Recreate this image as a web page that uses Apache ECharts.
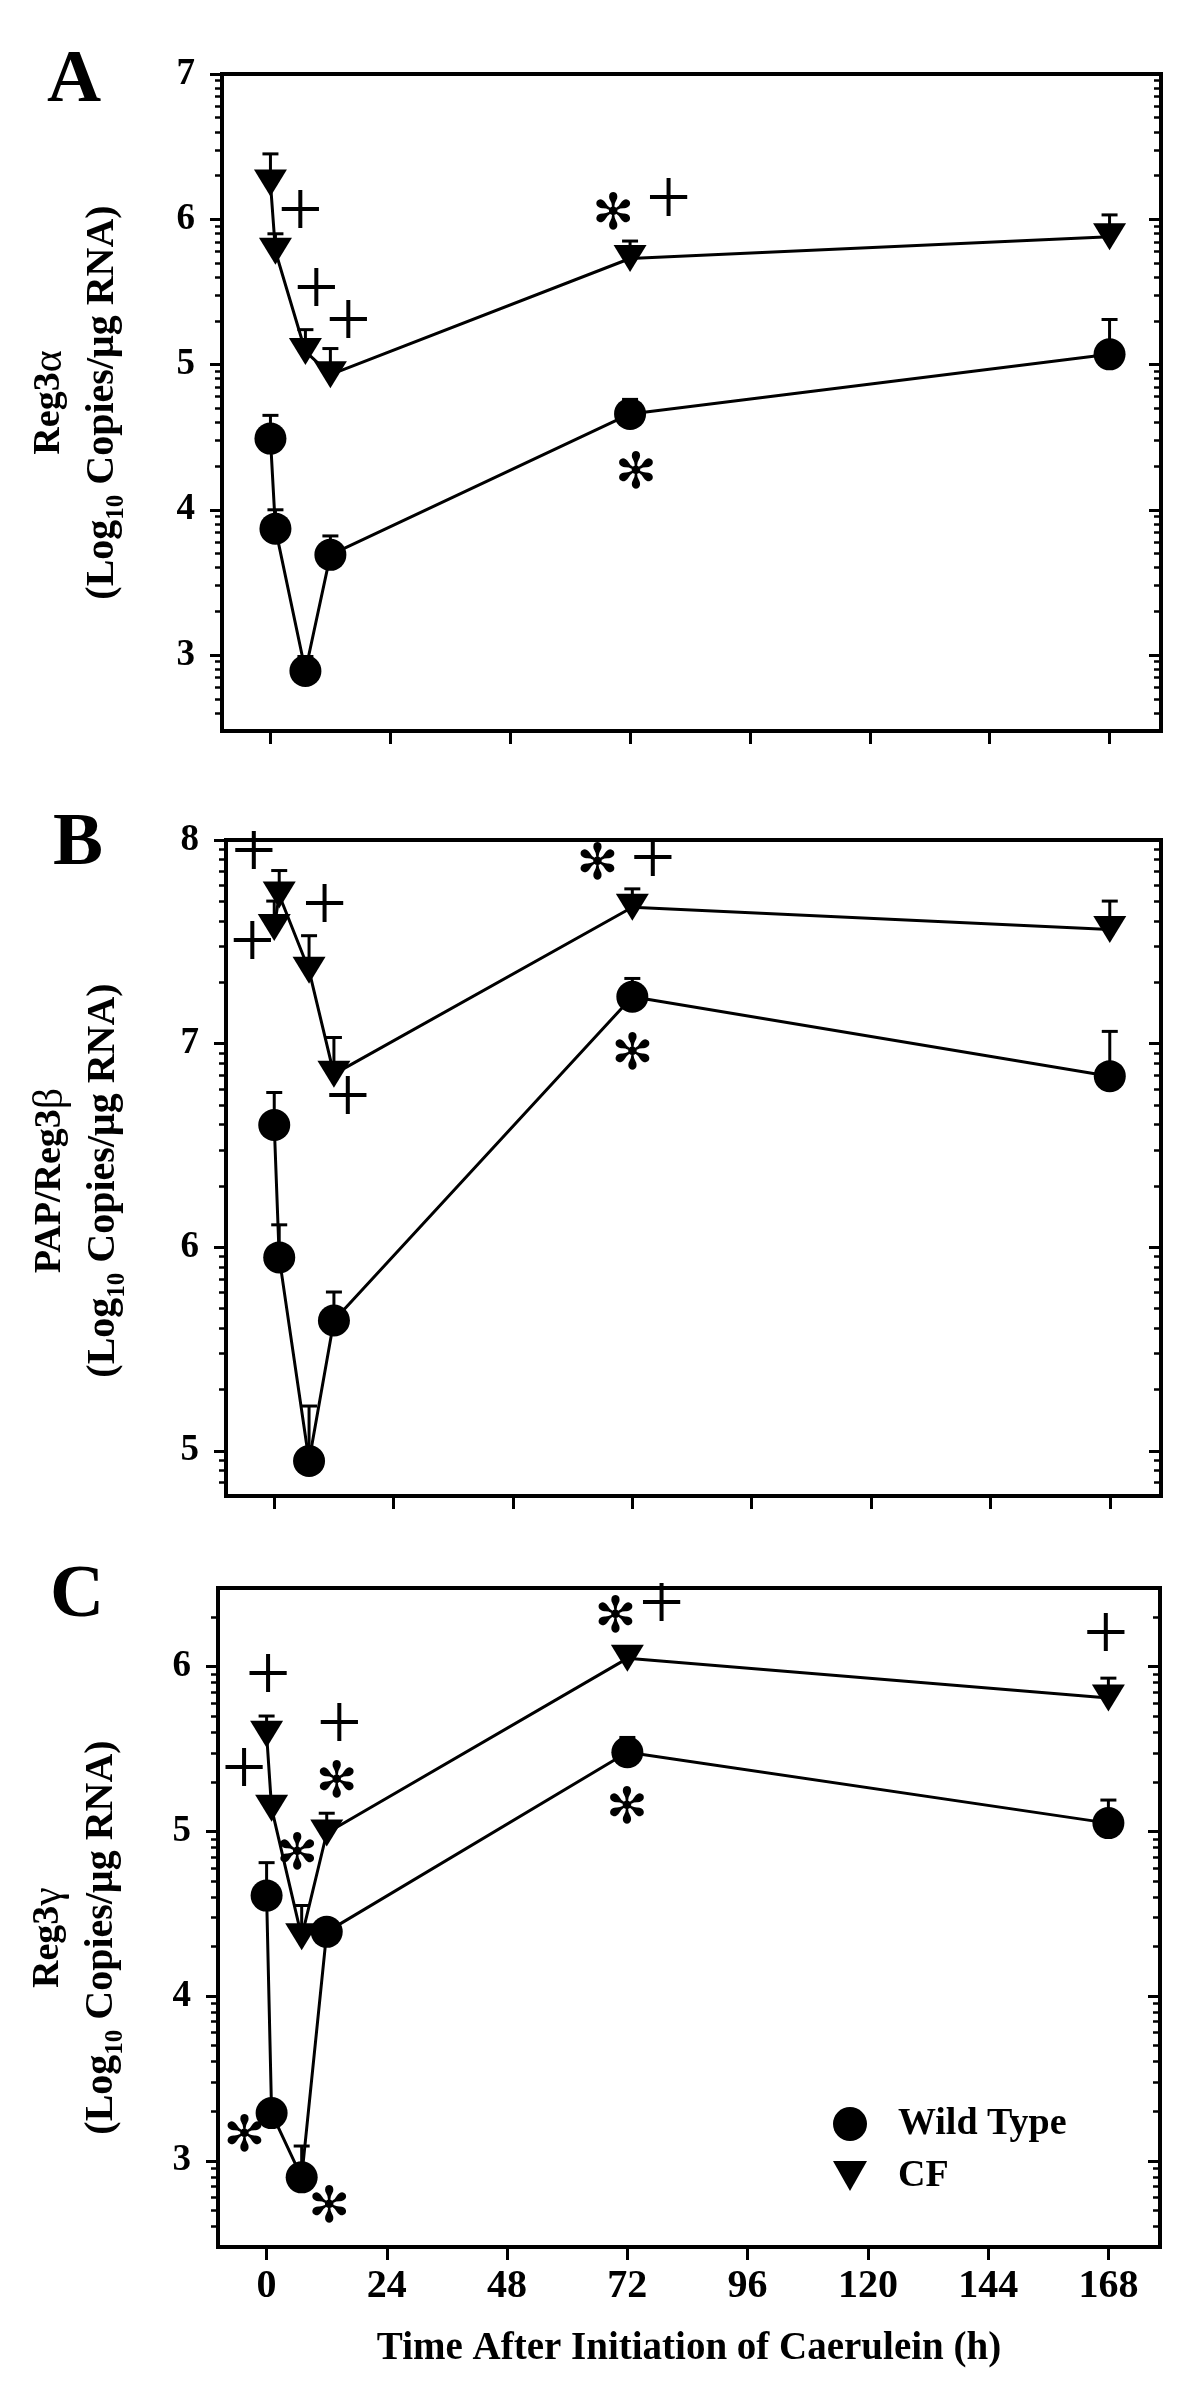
<!DOCTYPE html>
<html>
<head>
<meta charset="utf-8">
<script src="https://cdn.jsdelivr.net/npm/echarts@6/dist/echarts.min.js"></script>
<style>
  html, body { margin: 0; background: #fff; }
  #chart { width: 1200px; height: 2400px; }
</style>
</head>
<body>
<div id="chart"></div>
<script>
const hours = [0, 1, 7, 12, 72, 168]
const hourTicks = [0, 24, 48, 72, 96, 120, 144, 168]

// A: Reg3alpha
const reg3aWildType = [4.49, 3.87, 2.89, 3.69, 4.66, 5.07]
const reg3aWildTypeSem = [0.16, 0.13, 0.10, 0.13, 0.10, 0.24]
const reg3aCF = [6.25, 5.78, 5.09, 4.93, 5.73, 5.88]
const reg3aCFSem = [0.20, 0.12, 0.15, 0.18, 0.12, 0.15]
const reg3aPlus = [[6.0, 5.99], [9.2, 5.45], [15.6, 5.23], [79.7, 6.07]]
const reg3aStar = [[68.6, 6.02], [73.2, 4.24]]
const reg3aTicks = [3, 4, 5, 6, 7]

// B: PAP/Reg3beta
const reg3bWildType = [6.60, 5.95, 4.95, 5.64, 7.23, 6.84]
const reg3bWildTypeSem = [0.16, 0.16, 0.27, 0.14, 0.09, 0.22]
const reg3bCF = [7.57, 7.73, 7.36, 6.85, 7.67, 7.56]
const reg3bCFSem = [0.13, 0.12, 0.17, 0.18, 0.09, 0.14]
const reg3bPlus = [[-4.1, 7.89], [-4.4, 7.45], [10.1, 7.63], [14.8, 6.69], [76.1, 7.86]]
const reg3bStar = [[65.0, 7.87], [72.0, 6.94]]
const reg3bTicks = [5, 6, 7, 8]

// C: Reg3gamma
const reg3gWildType = [4.61, 3.29, 2.90, 4.39, 5.48, 5.05]
const reg3gWildTypeSem = [0.20, 0.03, 0.19, 0.03, 0.09, 0.14]
const reg3gCF = [5.59, 5.14, 4.36, 4.99, 6.05, 5.81]
const reg3gCFSem = [0.11, 0.03, 0.19, 0.12, 0.06, 0.12]
const reg3gPlus = [[0.3, 5.89], [-4.5, 5.32], [14.5, 5.59], [78.8, 6.32], [167.5, 6.14]]
const reg3gStar = [[14.0, 5.29], [6.1, 4.85], [-4.4, 3.14], [12.5, 2.71], [69.6, 6.29], [71.9, 5.13]]
const reg3gTicks = [3, 4, 5, 6]

const font = "'Liberation Serif', 'Times New Roman', serif"
const black = '#000'
const logTitle = '{b|(Log}{s|10}{b| Copies/μg RNA)}'

const panels = [
  { letter: 'A', name: '{t|Reg3}{g|α}\n' + logTitle, min: Math.log10(300), max: 7, ticks: reg3aTicks,
    wt: reg3aWildType, wtSem: reg3aWildTypeSem, cf: reg3aCF, cfSem: reg3aCFSem, plus: reg3aPlus, star: reg3aStar },
  { letter: 'B', name: '{t|PAP/Reg3}{g|β}\n' + logTitle, min: Math.log10(6e4), max: 8, ticks: reg3bTicks,
    wt: reg3bWildType, wtSem: reg3bWildTypeSem, cf: reg3bCF, cfSem: reg3bCFSem, plus: reg3bPlus, star: reg3bStar },
  { letter: 'C', name: '{t|Reg3}{g|γ}\n' + logTitle, min: Math.log10(300), max: Math.log10(3e6), ticks: reg3gTicks,
    wt: reg3gWildType, wtSem: reg3gWildTypeSem, cf: reg3gCF, cfSem: reg3gCFSem, plus: reg3gPlus, star: reg3gStar }
]

const layout = [
  { top: 74, height: 657, left: 222, right: 39, gap: 93, shift: 0, letterX: 74, letterY: 82 },
  { top: 840, height: 656, left: 226, right: 39, gap: 96, shift: 25, letterX: 78, letterY: 845 },
  { top: 1588, height: 659, left: 218, right: 40, gap: 90, shift: 40, letterX: 77, letterY: 1597 }
]

function logMinorTicks(min, max) {
  const out = []
  for (let d = Math.floor(min); d < max; d++) {
    for (let k = 2; k <= 9; k++) {
      const v = d + Math.log10(k)
      if (v > min + 1e-6 && v < max - 1e-6) out.push(v)
    }
  }
  return out
}

function errorBars(params, api) {
  const base = api.coord([api.value(0), api.value(1)])
  const cap = api.coord([api.value(0), api.value(2)])
  const style = { stroke: black, lineWidth: 3 }
  return {
    type: 'group',
    children: [
      { type: 'line', shape: { x1: base[0], y1: base[1], x2: cap[0], y2: cap[1] }, style },
      { type: 'line', shape: { x1: cap[0] - 8, y1: cap[1], x2: cap[0] + 8, y2: cap[1] }, style }
    ]
  }
}

function glyphMark(glyph, size, family, weight, dy) {
  return function (params, api) {
    const p = api.coord([api.value(0), api.value(1)])
    return {
      type: 'text', x: p[0], y: p[1] + dy,
      style: { text: glyph, fontSize: size, fontWeight: weight, fontFamily: family, fill: black, align: 'center', verticalAlign: 'middle' }
    }
  }
}

const tickLine = { color: black, width: 3 }
const grid = [], xAxis = [], yAxis = [], series = [], graphic = []

panels.forEach((p, i) => {
  const L = layout[i]
  const last = i === panels.length - 1
  const minors = logMinorTicks(p.min, p.max)
  grid.push({ show: true, borderColor: black, borderWidth: 4, left: L.left, right: L.right, top: L.top, height: L.height })

  xAxis.push({
    gridIndex: i, type: 'value', min: -9.7, max: 178.3,
    axisLine: { show: false, onZero: false },
    axisTick: { customValues: hourTicks, length: 13, lineStyle: tickLine },
    axisLabel: { show: last, customValues: hourTicks, margin: 20, fontSize: 40, fontWeight: 'bold', fontFamily: font, color: black },
    splitLine: { show: false },
    name: last ? 'Time After Initiation of Caerulein (h)' : '',
    nameLocation: 'middle', nameGap: 82,
    nameTextStyle: { fontSize: 39, fontWeight: 'bold', fontFamily: font, color: black }
  })

  const yBase = { gridIndex: i, type: 'value', min: p.min, max: p.max, axisLine: { show: false, onZero: false }, splitLine: { show: false } }
  yAxis.push(Object.assign({}, yBase, {
    position: 'left',
    axisTick: { customValues: p.ticks, length: 12, lineStyle: tickLine },
    axisLabel: { customValues: p.ticks, margin: 27, fontSize: 37, fontWeight: 'bold', fontFamily: font, color: black },
    name: p.name, nameLocation: 'middle', nameRotate: 90, nameGap: L.gap,
    nameTextStyle: {
      color: black, fontFamily: font, padding: [0, L.shift, 0, 0],
      rich: {
        t: { fontSize: 38, fontWeight: 'bold', fontFamily: font, lineHeight: 53, color: black },
        g: { fontSize: 42, fontWeight: 'normal', fontFamily: font, lineHeight: 53, color: black },
        b: { fontSize: 40, fontWeight: 'bold', fontFamily: font, lineHeight: 53, color: black },
        s: { fontSize: 25, fontWeight: 'bold', fontFamily: font, lineHeight: 25, verticalAlign: 'bottom', color: black }
      }
    }
  }))
  yAxis.push(Object.assign({}, yBase, {
    position: 'left',
    axisTick: { customValues: minors, length: 7, lineStyle: { color: black, width: 2.5 } },
    axisLabel: { show: false }
  }))
  yAxis.push(Object.assign({}, yBase, {
    position: 'right',
    axisTick: { inside: true, customValues: p.ticks, length: 12, lineStyle: tickLine },
    axisLabel: { show: false }
  }))
  yAxis.push(Object.assign({}, yBase, {
    position: 'right',
    axisTick: { inside: true, customValues: minors, length: 7, lineStyle: { color: black, width: 2.5 } },
    axisLabel: { show: false }
  }))

  const axes = { xAxisIndex: i, yAxisIndex: 4 * i }
  const wtPts = hours.map((h, k) => [h, p.wt[k]])
  const cfPts = hours.map((h, k) => [h, p.cf[k]])

  series.push(Object.assign({
    type: 'custom', z: 2, renderItem: errorBars,
    data: hours.map((h, k) => [h, p.wt[k], p.wt[k] + p.wtSem[k]])
  }, axes))
  series.push(Object.assign({
    type: 'custom', z: 2, renderItem: errorBars,
    data: hours.map((h, k) => [h, p.cf[k], p.cf[k] + p.cfSem[k]])
  }, axes))
  series.push(Object.assign({
    type: 'line', name: 'Wild Type', z: 3, data: wtPts,
    symbol: 'circle', symbolSize: 32,
    lineStyle: { color: black, width: 3 }, itemStyle: { color: black }
  }, axes))
  series.push(Object.assign({
    type: 'line', name: 'CF', z: 3, data: cfPts,
    symbol: 'triangle', symbolSize: [33, 27], symbolRotate: 180,
    lineStyle: { color: black, width: 3 }, itemStyle: { color: black }
  }, axes))
  series.push(Object.assign({ type: 'custom', z: 4, renderItem: glyphMark('+', 80, font, 'normal', -6), data: p.plus }, axes))
  series.push(Object.assign({ type: 'custom', z: 4, renderItem: glyphMark('✻', 50, "'DejaVu Sans', sans-serif", 'bold', 0), data: p.star }, axes))

  graphic.push({
    type: 'text', x: L.letterX, y: L.letterY,
    style: { text: p.letter, fontSize: 75, fontWeight: 'bold', fontFamily: font, fill: black, align: 'center', verticalAlign: 'middle' }
  })
})

const chart = echarts.init(document.getElementById('chart'))
chart.setOption({
  animation: false,
  backgroundColor: '#fff',
  grid, xAxis, yAxis, series, graphic,
  legend: {
    orient: 'vertical', left: 828, top: 2100, itemWidth: 34, itemHeight: 34, itemGap: 14,
    selectedMode: false,
    data: [
      { name: 'Wild Type', icon: 'circle' },
      { name: 'CF', icon: 'path://M0,0L33,0L16.5,29Z' }
    ],
    textStyle: { fontSize: 38, fontWeight: 'bold', fontFamily: font, color: black, lineHeight: 34, padding: [0, 0, 0, 26] }
  }
})
</script>
</body>
</html>
